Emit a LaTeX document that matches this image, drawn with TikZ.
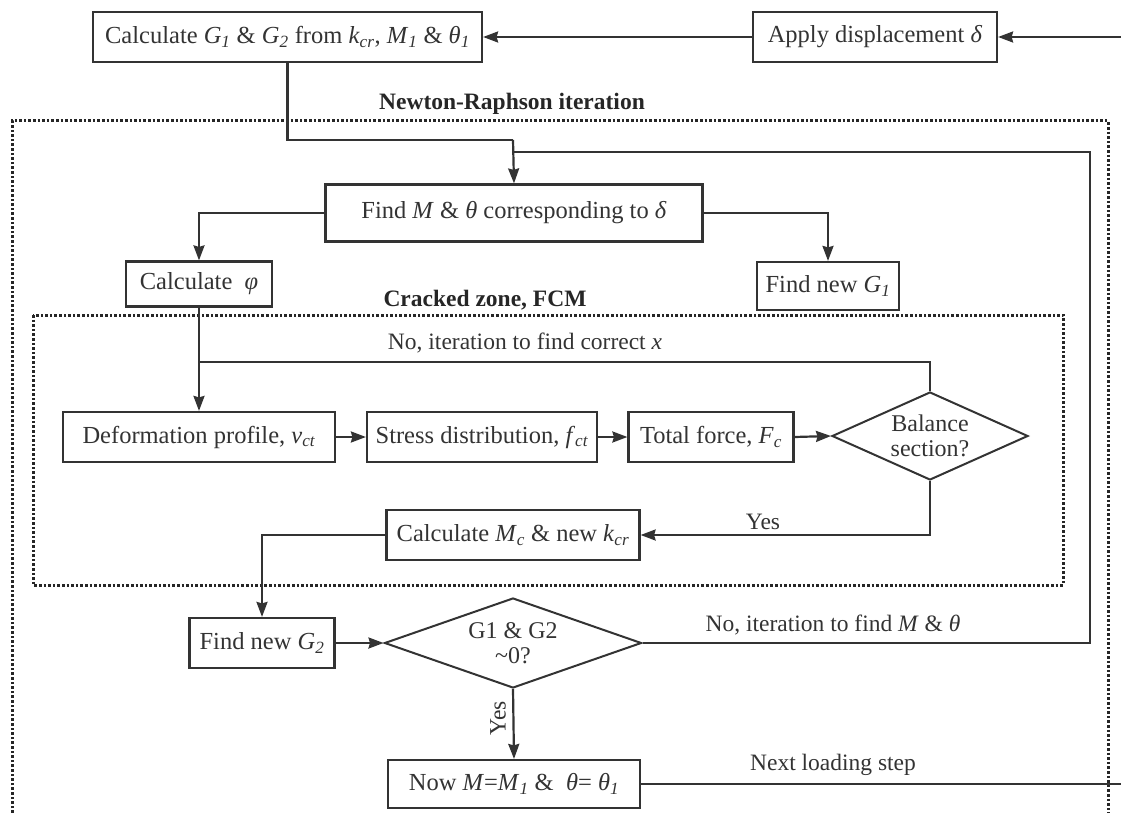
\documentclass[tikz,border=0pt]{standalone}
\usepackage{fontspec}
\setmainfont{Liberation Serif}
\usetikzlibrary{shapes.geometric,arrows.meta}
\newcommand{\vi}[1]{\textit{#1}}
\newcommand{\sbi}[1]{\textsubscript{\textit{#1}}}
\begin{document}
\begin{tikzpicture}[x=1pt,y=-1pt,
  line/.style={draw=black!80,line width=2.2pt},
  arr/.style={line,-{Stealth[length=15pt,width=11pt,inset=1.5pt]}},
  box/.style={draw=black!80,line width=2.2pt,fill=white,inner sep=0pt,text=black!80,font=\fontsize{24.5}{27}\selectfont},
  dia/.style={draw=black!80,line width=2pt,shape=diamond,aspect=2.2,inner sep=0pt,text=black!80,align=center,font=\fontsize{24}{25}\selectfont},
  lab/.style={text=black!80,font=\fontsize{23.5}{25}\selectfont,inner sep=0pt},
  title/.style={text=black!85,font=\bfseries\fontsize{23.5}{25}\selectfont,inner sep=0pt},
  zone/.style={draw=black!85,line width=3pt,dash pattern=on 2.6pt off 2pt}
]
\useasboundingbox (0,0) rectangle (1121,813);
% zones
\draw[zone] (12,813) -- (12,121) -- (1108,121) -- (1108,813);
\draw[zone] (33,315) rectangle (1063,585);
\node[title] (tNR) at (512,104) {Newton-Raphson iteration};
\node[title] (tCZ) at (485,300) {Cracked zone, FCM};
% nodes
\node[box,minimum width=389pt,minimum height=50pt] (b1) at (287.5,37) {Calculate \vi{G}\sbi{1} \& \vi{G}\sbi{2} from \vi{k}\sbi{cr}, \vi{M}\sbi{1} \& \vi{θ}\sbi{1}};
\node[box,minimum width=244pt,minimum height=50pt] (b2) at (875,37) {Apply displacement \vi{δ}};
\node[box,minimum width=377pt,minimum height=57pt] (b3) at (514,213) {Find \vi{M} \& \vi{θ} corresponding to \vi{δ}};
\node[box,minimum width=146pt,minimum height=45pt] (phi) at (199,284) {Calculate\ \ \vi{φ}};
\node[box,minimum width=142pt,minimum height=48pt] (g1) at (828,286) {Find new \vi{G}\sbi{1}};
\node[box,minimum width=272pt,minimum height=50pt] (def) at (199,437) {Deformation profile, \vi{v}\sbi{ct}};
\node[box,minimum width=230pt,minimum height=50pt] (str) at (482,437) {Stress distribution, \vi{f}\sbi{ct}};
\node[box,minimum width=165pt,minimum height=50pt] (tot) at (711,437) {Total force, \vi{F}\sbi{c}};
\node[dia,minimum width=196pt,minimum height=88pt] (bal) at (930,436) {Balance\\section?};
\node[box,minimum width=253pt,minimum height=50pt] (mc) at (513,535) {Calculate \vi{M}\sbi{c} \& new \vi{k}\sbi{cr}};
\node[box,minimum width=145pt,minimum height=50pt] (g2) at (262,643) {Find new \vi{G}\sbi{2}};
\node[dia,aspect=2.8,minimum width=257pt,minimum height=90pt] (d2) at (513,643) {G1 \& G2\\{\textasciitilde}0?};
\node[box,minimum width=252pt,minimum height=48pt] (now) at (514,784) {Now \vi{M}=\vi{M}\sbi{1} \&\ \ \vi{θ}= \vi{θ}\sbi{1}};
% coordinates
\coordinate (inR) at (1121,37);
\coordinate (j1) at (513,140);
\coordinate (loopR) at (1090,152);
\coordinate (loopL) at (513,152);
\coordinate (jx) at (199,362);
\coordinate (outR) at (1121,784);
% connectors
\draw[arr] (inR) -- (b2.east);
\draw[arr] (b2.west) -- (b1.east);
\draw[line] (b1.south) |- (j1);
\draw[arr] (j1) -- (b3.north);
\draw[line] (d2.east) -| (loopR) -- (loopL);
\draw[arr] (b3.west) -| (phi.north);
\draw[arr] (b3.east) -| (g1.north);
\draw[arr] (phi.south) -- (def.north);
\draw[line] (bal.north) |- (jx);
\draw[arr] (def.east) -- (str.west);
\draw[arr] (str.east) -- (tot.west);
\draw[arr] (tot.east) -- (bal.west);
\draw[arr] (bal.south) |- (mc.east);
\draw[arr] (mc.west) -| (g2.north);
\draw[arr] (g2.east) -- (d2.west);
\draw[arr] (d2.south) -- (now.north);
\draw[line] (now.east) -- (outR);
% labels
\node[lab] (lx) at (525,343) {No, iteration to find correct \vi{x}};
\node[lab] (ly1) at (763,522) {Yes};
\node[lab] (lm) at (833,625) {No, iteration to find \vi{M} \& \vi{θ}};
\node[lab,rotate=90] (ly2) at (498,718) {Yes};
\node[lab] (ln) at (833,765) {Next loading step};
\end{tikzpicture}
\end{document}
